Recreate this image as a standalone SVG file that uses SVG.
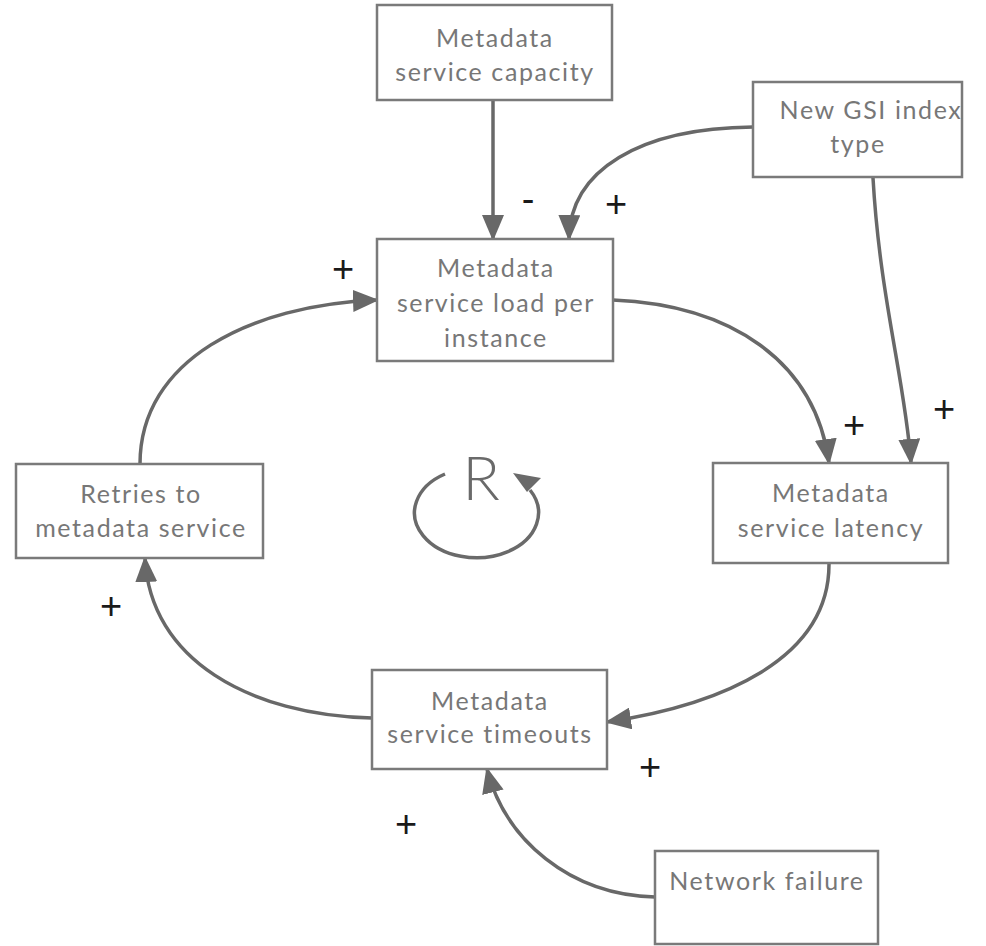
<svg xmlns="http://www.w3.org/2000/svg" width="986" height="946" viewBox="0 0 986 946">
<defs>
<style>
.box{fill:#fff;stroke:#7a7a7a;stroke-width:2.5}
.t{font-family:Lato,"Liberation Sans",sans-serif;font-size:25px;letter-spacing:1.6px;fill:#777;text-anchor:middle}
.c{fill:none;stroke:#686868;stroke-width:3.5}
.s{font-family:"Liberation Sans",sans-serif;font-size:38px;fill:#1a1a1a;text-anchor:middle}
</style>
<marker id="ah" markerUnits="userSpaceOnUse" markerWidth="26" markerHeight="22" viewBox="0 0 26 22" refX="24" refY="11" orient="auto">
<path d="M0,0 L26,11 L0,22 z" fill="#686868"/>
</marker>
</defs>
<rect width="986" height="946" fill="#fff"/>
<g id="connectors">
<path class="c" d="M493,100 L493,239" marker-end="url(#ah)"/>
<path class="c" d="M753,127 C640,128 570,170 569,239" marker-end="url(#ah)"/>
<path class="c" d="M873,178 C880,300 905,380 911,463" marker-end="url(#ah)"/>
<path class="c" d="M613,300 C730,305 815,360 829,463" marker-end="url(#ah)"/>
<path class="c" d="M829,563 C830,660 720,705 607,722" marker-end="url(#ah)"/>
<path class="c" d="M372,718 C250,715 150,660 145,558" marker-end="url(#ah)"/>
<path class="c" d="M140,464 C140,360 250,305 377,300" marker-end="url(#ah)"/>
<path class="c" d="M655,897 C570,895 505,840 487,769" marker-end="url(#ah)"/>
</g>
<g id="n-capacity"><rect class="box" x="377" y="5" width="235" height="95"/>
<text class="t" x="495" y="47">Metadata</text><text class="t" x="495" y="81">service capacity</text></g>
<g id="n-gsi"><rect class="box" x="753" y="82" width="209" height="95"/>
<text class="t" x="871" y="119">New GSI index</text><text class="t" x="858" y="153">type</text></g>
<g id="n-load"><rect class="box" x="377" y="239" width="236" height="122"/>
<text class="t" x="496" y="277">Metadata</text><text class="t" x="496" y="312">service load per</text><text class="t" x="496" y="347">instance</text></g>
<g id="n-latency"><rect class="box" x="713" y="463" width="235" height="100"/>
<text class="t" x="831" y="502">Metadata</text><text class="t" x="831" y="537">service latency</text></g>
<g id="n-retries"><rect class="box" x="16" y="464" width="247" height="94"/>
<text class="t" x="141" y="503">Retries to</text><text class="t" x="141" y="537">metadata service</text></g>
<g id="n-timeouts"><rect class="box" x="372" y="670" width="235" height="99"/>
<text class="t" x="490" y="710">Metadata</text><text class="t" x="490" y="743">service timeouts</text></g>
<g id="n-network"><rect class="box" x="655" y="851" width="223" height="93"/>
<text class="t" x="767" y="890">Network failure</text></g>
<g id="signs">
<text class="s" x="528" y="212">-</text>
<text class="s" x="616" y="217">+</text>
<text class="s" x="343" y="282">+</text>
<text class="s" x="854" y="438">+</text>
<text class="s" x="944" y="422">+</text>
<text class="s" x="111" y="619">+</text>
<text class="s" x="650" y="780">+</text>
<text class="s" x="406" y="837">+</text>
</g>
<g id="loop-r">
<text x="481" y="500" font-family="Lato,'Liberation Sans',sans-serif" font-weight="300" font-size="62" fill="#6a6a6a" text-anchor="middle">R</text>
<path d="M445,474 A62,45 0 1 0 530,490" fill="none" stroke="#6a6a6a" stroke-width="3.5"/>
<polygon points="513,473 541,478 527,492" fill="#6a6a6a"/>
</g>
</svg>
